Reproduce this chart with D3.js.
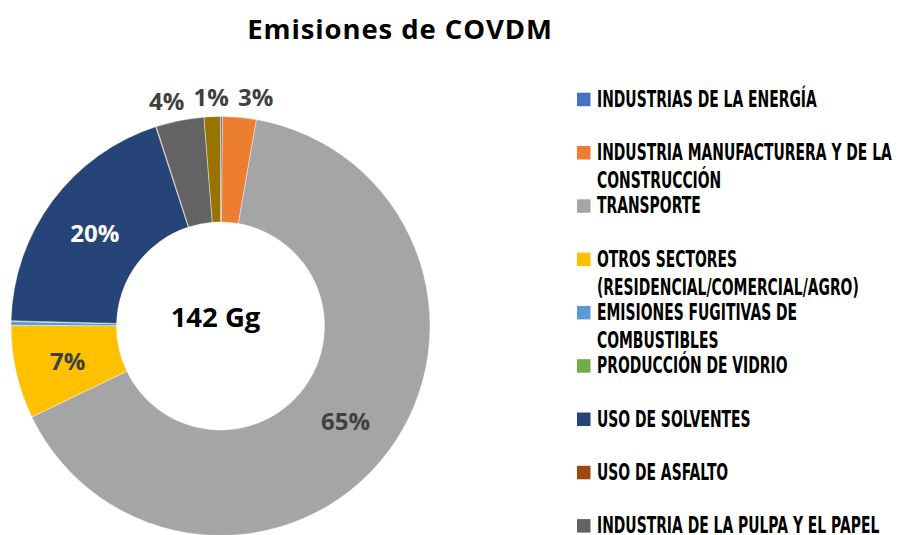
<!DOCTYPE html>
<html>
<head>
<meta charset="utf-8">
<script src="https://cdn.jsdelivr.net/npm/d3@7"></script>
<style>
  html, body { margin: 0; padding: 0; background: #fff; }
  svg { display: block; }
</style>
</head>
<body>
<svg id="chart" width="898" height="535"></svg>
<script>
// ---- data ----
const categories = [
  "INDUSTRIAS DE LA ENERGÍA",
  "INDUSTRIA MANUFACTURERA Y DE LA CONSTRUCCIÓN",
  "TRANSPORTE",
  "OTROS SECTORES (RESIDENCIAL/COMERCIAL/AGRO)",
  "EMISIONES FUGITIVAS DE COMBUSTIBLES",
  "PRODUCCIÓN DE VIDRIO",
  "USO DE SOLVENTES",
  "USO DE ASFALTO",
  "INDUSTRIA DE LA PULPA Y EL PAPEL",
  "ALIMENTOS Y BEBIDAS"
];
const values = [0.21, 3.69, 92.44, 10.22, 0.43, 0.07, 27.83, 0.07, 5.25, 1.78]; // Gg
const colors = ["#4472C4", "#ED7D31", "#A5A5A5", "#FFC000", "#5B9BD5",
                "#70AD47", "#264478", "#9E480E", "#636363", "#997300"];
const titleText = "Emisiones de COVDM";
const centerText = "142 Gg";

// ---- layout ----
const svg = d3.select("#chart");
const cx = 220.5, cy = 326, outerR = 209.5, innerR = 104;

svg.append("text")
  .attr("x", 400).attr("y", 38.5)
  .attr("text-anchor", "middle")
  .attr("font-family", "'Open Sans', sans-serif")
  .attr("font-weight", 700)
  .attr("font-size", 27.5)
  .attr("letter-spacing", 0.9)
  .attr("fill", "#000")
  .text(titleText);

const total = d3.sum(values);
const data = categories.map((c, i) => ({ name: c, value: values[i], color: colors[i] }));
const pie = d3.pie().value(d => d.value).sort(null);
const arcs = pie(data);
const arc = d3.arc().innerRadius(innerR).outerRadius(outerR);

const g = svg.append("g").attr("transform", `translate(${cx},${cy})`);
g.selectAll("path.slice")
  .data(arcs)
  .join("path")
  .attr("class", "slice")
  .attr("d", arc)
  .attr("fill", d => d.data.color)
  .attr("stroke", "#fff")
  .attr("stroke-width", 0.4);

g.append("text")
  .attr("x", -5).attr("y", 0.7)
  .attr("text-anchor", "middle")
  .attr("font-family", "'Open Sans', sans-serif")
  .attr("font-weight", 700)
  .attr("font-size", 27.5)
  .attr("fill", "#000")
  .text(centerText);

// percentage labels
const pct = d => Math.round(d.value / total * 100);
const labelled = arcs.filter(d => pct(d) >= 1);
const inside = labelled.filter(d => d.value / total >= 0.05);
const outside = labelled.filter(d => d.value / total < 0.05);

g.selectAll("text.inlbl")
  .data(inside)
  .join("text")
  .attr("class", "inlbl")
  .attr("transform", d => `translate(${arc.centroid(d)})`)
  .attr("text-anchor", "middle")
  .attr("dominant-baseline", "central")
  .attr("font-family", "'Open Sans', sans-serif")
  .attr("font-weight", 700)
  .attr("font-size", 24)
  .attr("fill", d => d.index === 6 ? "#fff" : "#404040")
  .text(d => pct(d) + "%");

// outside labels: on a ring, clustered labels spread evenly around their mean
const outArc = d3.arc().innerRadius(230).outerRadius(230);
const gap = 44.5;
const outPos = outside.map(d => {
  const [x, y] = outArc.centroid(d);
  return { d, x, y };
}).sort((a, b) => a.x - b.x);
const meanX = d3.mean(outPos, p => p.x);
const n = outPos.length;
let overlap = false;
for (let i = 1; i < n; i++) if (outPos[i].x - outPos[i - 1].x < gap) overlap = true;
if (overlap) outPos.forEach((p, i) => { p.x = meanX + 1.5 + (i - (n - 1) / 2) * gap; });

g.selectAll("text.outlbl")
  .data(outPos)
  .join("text")
  .attr("class", "outlbl")
  .attr("x", p => p.x).attr("y", p => p.y)
  .attr("text-anchor", "middle")
  .attr("dominant-baseline", "central")
  .attr("font-family", "'Open Sans', sans-serif")
  .attr("font-weight", 700)
  .attr("font-size", 24)
  .attr("fill", "#404040")
  .text(p => pct(p.d) + "%");

// ---- legend ----
const legX = 577, legBase0 = 106.7, legStep = 53.3, lineH = 28, maxW = 305, squeeze = 0.605;
const legend = svg.append("g");
data.forEach((d, i) => {
  const base = legBase0 + i * legStep;
  legend.append("rect")
    .attr("x", legX).attr("y", base - 14)
    .attr("width", 13.5).attr("height", 13.5)
    .attr("fill", d.color);
  const t = legend.append("g")
    .attr("transform", `translate(${legX + 20},${base}) scale(${squeeze},1)`)
    .append("text")
    .attr("x", 0).attr("y", 0)
    .attr("font-family", "'DejaVu Sans', sans-serif")
    .attr("font-weight", 700)
    .attr("font-size", 23)
    .attr("fill", "#000");
  const words = d.name.split(" ");
  let line = [];
  let tspan = t.append("tspan").attr("x", 0).attr("dy", 0);
  words.forEach(w => {
    line.push(w);
    tspan.text(line.join(" "));
    if (tspan.node().getComputedTextLength() * squeeze > maxW && line.length > 1) {
      line.pop();
      tspan.text(line.join(" "));
      line = [w];
      tspan = t.append("tspan").attr("x", 0).attr("dy", lineH).text(w);
    }
  });
});
</script>
</body>
</html>
